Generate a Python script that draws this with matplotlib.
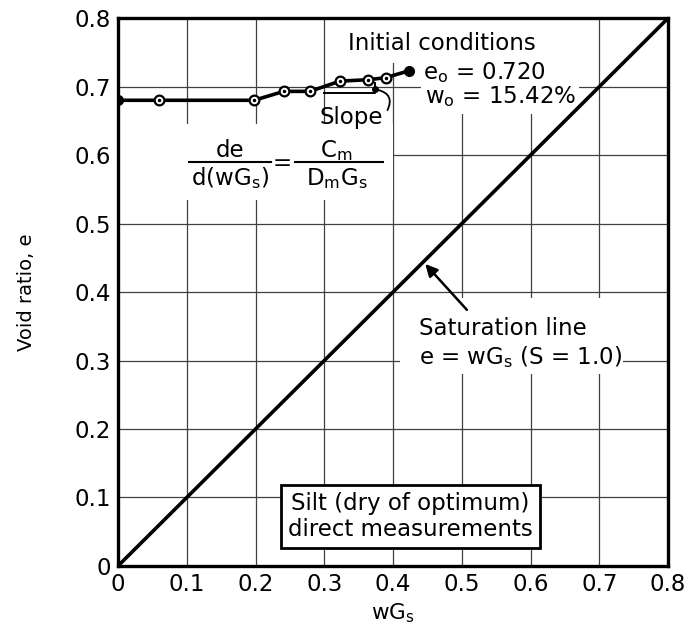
import matplotlib
matplotlib.use('Agg')
import matplotlib.pyplot as plt
from matplotlib.patches import Rectangle

# compaction test points, silt dry of optimum
wgs = [0.0, 0.06, 0.198, 0.241, 0.279, 0.323, 0.364, 0.389, 0.423]
void_ratio = [0.680, 0.680, 0.680, 0.693, 0.693, 0.708, 0.710, 0.713, 0.723]

# saturation line e = wGs
sat_x = [0.0, 0.8]
sat_e = [0.0, 0.8]

ticks = [0.0, 0.1, 0.2, 0.3, 0.4, 0.5, 0.6, 0.7, 0.8]
tick_labels = ['0', '0.1', '0.2', '0.3', '0.4', '0.5', '0.6', '0.7', '0.8']

FS = 16.5

fig = plt.figure(figsize=(6.86, 6.24), dpi=100)
ax = fig.add_axes([0.172, 0.093, 0.802, 0.878])

ax.set_xlim(0, 0.8)
ax.set_ylim(0, 0.8)
ax.set_xticks(ticks)
ax.set_xticklabels(tick_labels)
ax.set_yticks(ticks)
ax.set_yticklabels(tick_labels)
ax.tick_params(length=0, labelsize=FS, pad=5)
for s in ax.spines.values():
    s.set_linewidth(2.4)
    s.set_zorder(6)

# grid
for t in ticks[1:-1]:
    ax.axvline(t, color='0.25', lw=0.9, zorder=1)
    ax.axhline(t, color='0.25', lw=0.9, zorder=1)

ax.set_xlabel('wG$_\\mathregular{s}$', fontsize=FS - 1, labelpad=4)
ax.set_ylabel('Void ratio, e', fontsize=FS - 2.5, labelpad=28)

# white areas behind the labels
for (x0, y0, w, h) in [(0.33, 0.735, 0.34, 0.065), (0.44, 0.66, 0.23, 0.08),
                       (0.0, 0.535, 0.40, 0.11), (0.41, 0.28, 0.325, 0.112)]:
    ax.add_patch(Rectangle((x0, y0), w, h, fc='white', ec='none', zorder=2))

# data curve and points
ax.plot(wgs, void_ratio, color='k', lw=2.6, zorder=4)
ax.plot(wgs[1:-1], void_ratio[1:-1], 'o', ms=7, mfc='white', mec='k', mew=1.6, zorder=5)
ax.plot(wgs[1:-1], void_ratio[1:-1], '.', ms=3, color='k', zorder=5)
ax.plot([wgs[0], wgs[-1]], [void_ratio[0], void_ratio[-1]], 'o', ms=7, color='k', zorder=5)

# saturation line
ax.plot(sat_x, sat_e, color='k', lw=2.6, zorder=4)

# slope triangle
ax.plot([0.30, 0.374, 0.374], [0.691, 0.691, 0.705], color='k', lw=1.4, zorder=4)
ax.plot([0.374], [0.696], 'o', ms=4, color='k', zorder=5)
ax.annotate('', xy=(0.374, 0.696), xytext=(0.39, 0.662),
            arrowprops=dict(arrowstyle='-', lw=1.3, color='k',
                            connectionstyle='arc3,rad=0.7'), zorder=5)
ax.text(0.293, 0.655, 'Slope', fontsize=FS, ha='left', va='center', zorder=3)

# initial conditions
ax.text(0.334, 0.763, 'Initial conditions', fontsize=FS, ha='left', va='center', zorder=3)
ax.text(0.444, 0.72, 'e$_\\mathregular{o}$ = 0.720', fontsize=FS, ha='left', va='center', zorder=3)
ax.text(0.447, 0.685, 'w$_\\mathregular{o}$ = 15.42%', fontsize=FS, ha='left', va='center', zorder=3)

# slope equation
ax.text(0.163, 0.607, 'de', fontsize=FS, ha='center', va='center', zorder=3)
ax.text(0.163, 0.566, 'd(wG$_\\mathregular{s}$)', fontsize=FS, ha='center', va='center', zorder=3)
ax.plot([0.103, 0.222], [0.59, 0.59], color='k', lw=1.5, zorder=3)
ax.text(0.239, 0.588, '=', fontsize=FS, ha='center', va='center', zorder=3)
ax.text(0.318, 0.607, 'C$_\\mathregular{m}$', fontsize=FS, ha='center', va='center', zorder=3)
ax.text(0.318, 0.566, 'D$_\\mathregular{m}$G$_\\mathregular{s}$', fontsize=FS, ha='center', va='center', zorder=3)
ax.plot([0.257, 0.386], [0.59, 0.59], color='k', lw=1.5, zorder=3)

# saturation line label
ax.text(0.437, 0.347, 'Saturation line', fontsize=FS, ha='left', va='center', zorder=3)
ax.text(0.437, 0.305, 'e = wG$_\\mathregular{s}$ (S = 1.0)', fontsize=FS, ha='left', va='center', zorder=3)
ax.annotate('', xy=(0.444, 0.444), xytext=(0.51, 0.371),
            arrowprops=dict(arrowstyle='-|>', lw=1.8, color='k', mutation_scale=18), zorder=5)

# sample description box
ax.text(0.425, 0.072, 'Silt (dry of optimum)\ndirect measurements', fontsize=FS,
        ha='center', va='center', multialignment='center', linespacing=1.15, zorder=3,
        bbox=dict(boxstyle='square,pad=0.3', fc='white', ec='k', lw=2))

fig.savefig('out.png', dpi=100)
